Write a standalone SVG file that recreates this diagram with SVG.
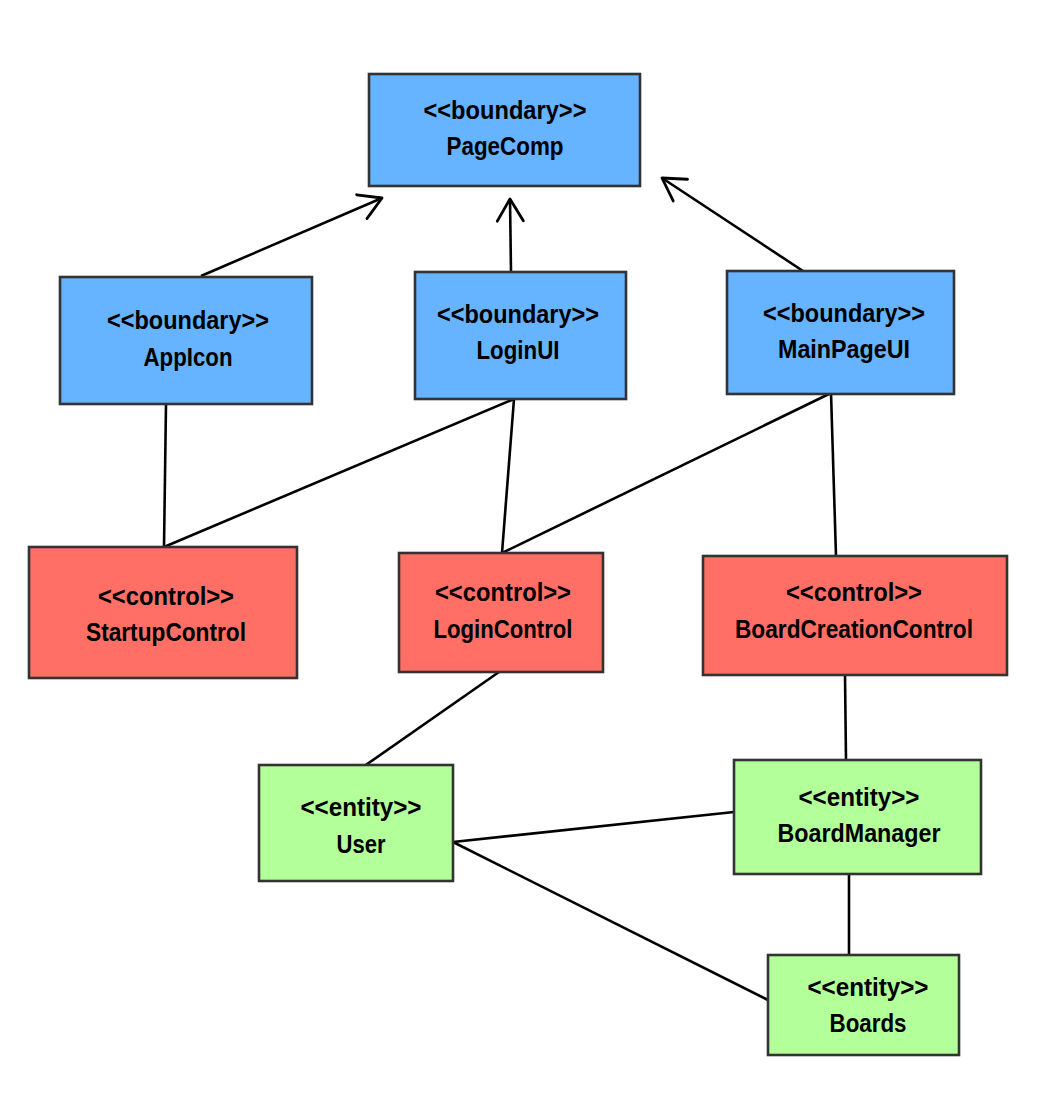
<svg xmlns="http://www.w3.org/2000/svg" width="1046" height="1116" viewBox="0 0 1046 1116">
<style>
.box{stroke:#333333;stroke-width:2.6}
.b{fill:#66B3FF}
.c{fill:#FF6F66}
.e{fill:#B3FF99}
text{font-family:"Liberation Sans",Arial,sans-serif;font-size:26px;font-weight:bold;fill:#000;text-anchor:middle}
.con line{stroke:#000;stroke-width:2.6;fill:none}
</style>
<defs>
<marker id="open" markerUnits="userSpaceOnUse" markerWidth="40" markerHeight="40" viewBox="-30 -20 40 40" refX="0" refY="0" orient="auto" overflow="visible">
<path d="M-22,-13 L0,0 L-22,13" fill="none" stroke="#000" stroke-width="2.8" stroke-linecap="round" stroke-linejoin="round"/>
</marker>
</defs>
<rect width="1046" height="1116" fill="#fff"/>
<g id="connectors" class="con">
<line x1="201" y1="276" x2="382" y2="198" marker-end="url(#open)"/>
<line x1="511" y1="272" x2="510" y2="199" marker-end="url(#open)"/>
<line x1="803" y1="271" x2="662" y2="178" marker-end="url(#open)"/>
<line x1="166" y1="404" x2="164" y2="547"/>
<line x1="514" y1="399" x2="164" y2="547"/>
<line x1="514" y1="399" x2="502" y2="553"/>
<line x1="831" y1="393" x2="502" y2="553"/>
<line x1="831" y1="393" x2="836" y2="556"/>
<line x1="499" y1="672" x2="363" y2="767"/>
<line x1="845" y1="675" x2="846" y2="760"/>
<line x1="453" y1="842" x2="734" y2="812"/>
<line x1="453" y1="842" x2="768" y2="1000"/>
<line x1="849" y1="874" x2="849" y2="955"/>
</g>
<g id="PageComp">
<rect class="box b" x="369" y="74" width="271" height="112"/>
<text x="505" y="119" textLength="163" lengthAdjust="spacingAndGlyphs">&lt;&lt;boundary&gt;&gt;</text>
<text x="505" y="155" textLength="117" lengthAdjust="spacingAndGlyphs">PageComp</text>
</g>
<g id="AppIcon">
<rect class="box b" x="60" y="277" width="252" height="127"/>
<text x="188" y="329" textLength="162" lengthAdjust="spacingAndGlyphs">&lt;&lt;boundary&gt;&gt;</text>
<text x="188" y="366" textLength="89" lengthAdjust="spacingAndGlyphs">AppIcon</text>
</g>
<g id="LoginUI">
<rect class="box b" x="415" y="272" width="211" height="127"/>
<text x="518" y="323" textLength="162" lengthAdjust="spacingAndGlyphs">&lt;&lt;boundary&gt;&gt;</text>
<text x="518" y="359" textLength="83" lengthAdjust="spacingAndGlyphs">LoginUI</text>
</g>
<g id="MainPageUI">
<rect class="box b" x="727" y="271" width="227" height="123"/>
<text x="844" y="322" textLength="162" lengthAdjust="spacingAndGlyphs">&lt;&lt;boundary&gt;&gt;</text>
<text x="844" y="358" textLength="132" lengthAdjust="spacingAndGlyphs">MainPageUI</text>
</g>
<g id="StartupControl">
<rect class="box c" x="29" y="547" width="268" height="131"/>
<text x="166" y="605" textLength="136" lengthAdjust="spacingAndGlyphs">&lt;&lt;control&gt;&gt;</text>
<text x="166" y="641" textLength="160" lengthAdjust="spacingAndGlyphs">StartupControl</text>
</g>
<g id="LoginControl">
<rect class="box c" x="399" y="553" width="204" height="119"/>
<text x="503" y="601" textLength="136" lengthAdjust="spacingAndGlyphs">&lt;&lt;control&gt;&gt;</text>
<text x="503" y="638" textLength="139" lengthAdjust="spacingAndGlyphs">LoginControl</text>
</g>
<g id="BoardCreationControl">
<rect class="box c" x="703" y="556" width="304" height="119"/>
<text x="854" y="601" textLength="136" lengthAdjust="spacingAndGlyphs">&lt;&lt;control&gt;&gt;</text>
<text x="854" y="638" textLength="238" lengthAdjust="spacingAndGlyphs">BoardCreationControl</text>
</g>
<g id="User">
<rect class="box e" x="259" y="765" width="194" height="116"/>
<text x="361" y="816" textLength="121" lengthAdjust="spacingAndGlyphs">&lt;&lt;entity&gt;&gt;</text>
<text x="361" y="853" textLength="49" lengthAdjust="spacingAndGlyphs">User</text>
</g>
<g id="BoardManager">
<rect class="box e" x="734" y="760" width="247" height="114"/>
<text x="859" y="806" textLength="121" lengthAdjust="spacingAndGlyphs">&lt;&lt;entity&gt;&gt;</text>
<text x="859" y="842" textLength="163" lengthAdjust="spacingAndGlyphs">BoardManager</text>
</g>
<g id="Boards">
<rect class="box e" x="768" y="955" width="191" height="100"/>
<text x="868" y="996" textLength="121" lengthAdjust="spacingAndGlyphs">&lt;&lt;entity&gt;&gt;</text>
<text x="868" y="1032" textLength="77" lengthAdjust="spacingAndGlyphs">Boards</text>
</g>
</svg>
